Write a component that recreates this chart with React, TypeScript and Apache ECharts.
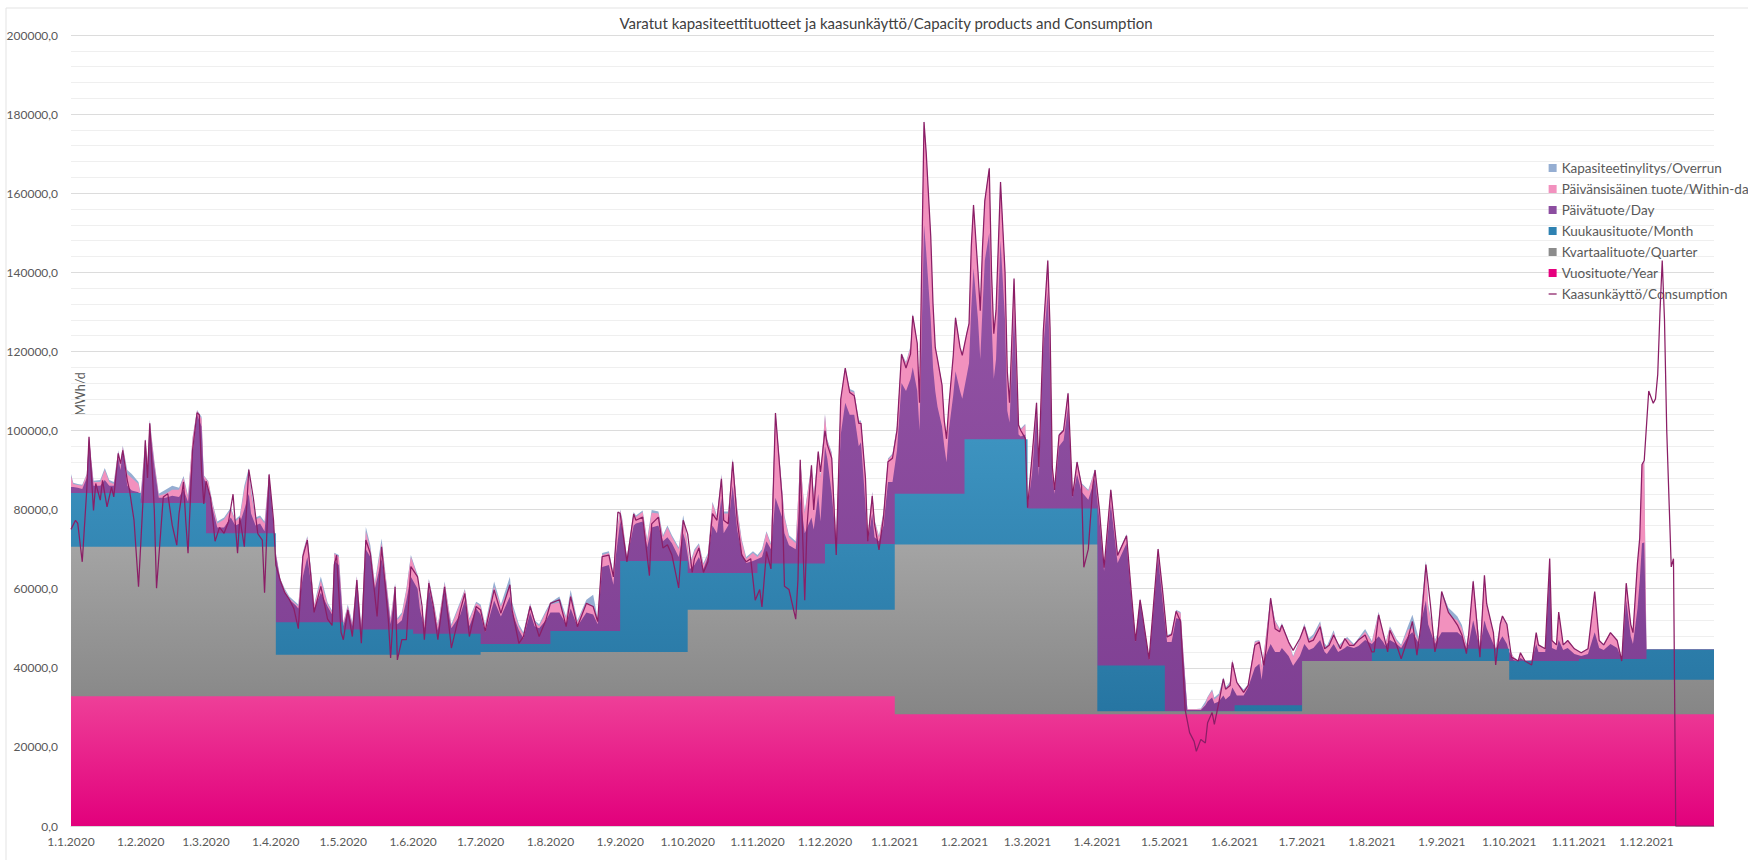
import React, { useEffect, useRef } from 'react';
import * as echarts from 'echarts';

// ---------- axis categories (one per day, 1.1.2020 – 31.12.2021) ----------
const START_UTC = Date.UTC(2020, 0, 1);
const DAY_COUNT = 731;
const dayLabels: string[] = Array.from({ length: DAY_COUNT }, (_, i) => {
  const d = new Date(START_UTC + i * 86400000);
  return `${d.getUTCDate()}.${d.getUTCMonth() + 1}.${d.getUTCFullYear()}`;
});
const monthStartDays = [0, 31, 60, 91, 121, 152, 182, 213, 244, 274, 305, 335, 366, 397, 425, 456, 486, 517, 547, 578, 609, 639, 670, 700];

// ---------- monthly step products (top of each band, MWh/d) ----------
const yearBandTop = [32800, 32800, 32800, 32800, 32800, 32800, 32800, 32800, 32800, 32800, 32800, 32800,
  28250, 28250, 28250, 28250, 28250, 28250, 28250, 28250, 28250, 28250, 28250, 28250];
const quarterBandTop = [70600, 70600, 70600, 43300, 43300, 43300, 44000, 44000, 44000, 54700, 54700, 54700,
  71200, 71200, 71200, 29000, 29000, 29000, 41700, 41700, 41700, 37000, 37000, 37000];
const monthBandTop = [84200, 81700, 74000, 51500, 49700, 48600, 46000, 49300, 67000, 64000, 66400, 71300,
  84000, 97800, 80300, 40600, 29000, 30500, 41700, 44800, 44800, 41700, 42200, 44600];

// ---------- daily capacity envelopes (tops of bands, MWh/d) ----------
const capDays = [
  0, 1, 3, 5, 7, 8, 10, 13, 15, 17, 19, 21, 22, 23, 25, 27, 30,
  31, 33, 34, 35, 37, 39, 42, 45, 48, 50, 52, 54, 56, 58, 59,
  61, 63, 65, 68, 71, 73, 75, 77, 79, 80, 82, 84, 86, 88, 90,
  91, 93, 95, 97, 100, 101, 103, 105, 107, 108, 111, 114, 116, 117, 119,
  121, 123, 125, 127, 129, 131, 133, 135, 138, 140, 142, 144, 145, 147, 149, 151,
  154, 155, 157, 159, 161, 163, 166, 169, 173, 175, 177, 180,
  182, 184, 188, 191, 195, 196, 199, 201, 204, 206, 208, 211,
  213, 217, 220, 222, 225, 229, 232, 234, 236, 239, 241, 242,
  244, 245, 247, 250, 251, 254, 256, 258, 261, 263, 265, 267, 270, 272, 273,
  275, 277, 279, 281, 283, 285, 287, 289, 290, 292, 294, 296, 298, 300, 303,
  305, 307, 309, 311, 313, 316, 317, 319, 322, 324, 326, 329, 330, 332, 333,
  335, 336, 338, 340, 342, 344, 346, 348, 350, 351, 353, 354, 356, 357, 359, 361, 363, 365,
  367, 369, 371, 373, 374, 376, 377, 379, 380, 382, 383, 384, 385, 387, 388, 389, 390, 392, 393, 395, 396,
  398, 399, 400, 401, 403, 404, 405, 406, 408, 409, 410, 411, 413, 415, 416, 417, 419, 420, 421, 422, 424,
  425, 427, 429, 430, 432, 434, 435, 436, 437, 439, 441, 443, 444, 445, 447, 449, 452, 455,
  457, 459, 462, 465, 469, 471, 473, 475, 476, 479, 483, 485,
  487, 489, 491, 493, 495, 496, 500, 502, 504, 505, 507, 508, 510, 512, 513, 515, 516,
  518, 521, 523, 526, 528, 529, 530, 533, 535, 537, 538, 541, 543, 546,
  548, 550, 552, 555, 557, 558, 561, 563, 566, 567, 570, 572, 575,
  578, 581, 583, 584, 586, 589, 591, 594, 596, 599, 600, 602, 603, 606, 607,
  609, 612, 614, 616, 618, 620, 621, 623, 626, 628, 629, 632, 633, 635, 636, 638,
  639, 641, 643, 644, 646, 649, 651, 652, 655, 657, 658, 660, 661, 663, 665, 668,
  671, 674, 677, 679, 681, 684, 687, 689, 691, 693, 694, 696, 697, 698, 699,
  700, 730,
];
// top of Päivätuote/Day band
const dayTop = [
  85700, 85700, 85500, 85200, 88000, 98000, 86000, 86000, 87500, 86000, 86000, 93000, 90000, 95000, 86000, 84800, 84400,
  82500, 96000, 90000, 101000, 91000, 83000, 83000, 83500, 83200, 85000, 82000, 94000, 104000, 101000, 88000,
  85000, 80000, 75500, 75500, 78000, 76000, 76500, 80000, 84000, 79000, 76000, 76500, 74500, 88500, 76000,
  68500, 62000, 59000, 57300, 55700, 55000, 63000, 68000, 60000, 55000, 59000, 55500, 53500, 67000, 66000,
  50500, 55000, 50500, 61000, 49800, 70000, 68000, 60000, 67500, 61000, 51000, 59500, 51000, 52000, 57000, 63000,
  60000, 55000, 50000, 60000, 55000, 49500, 59500, 50000, 53500, 57000, 50500, 55000,
  53500, 49000, 57000, 53000, 58000, 54000, 49500, 47500, 54000, 50500, 50000, 52000,
  54000, 54000, 51000, 55000, 50500, 54000, 53500, 51000, 65500, 66000, 61000, 68000,
  77000, 75000, 67600, 76000, 76500, 77000, 70500, 75500, 76000, 72000, 73000, 71500, 68000, 74000, 72000,
  65000, 66000, 68000, 65000, 68000, 76000, 74000, 83000, 74000, 76000, 86000, 75000, 69000, 66500, 67000,
  67500, 68000, 72000, 70000, 83000, 78000, 74000, 71000, 70000, 83000, 74000, 78000, 75000, 84000, 77000,
  96000, 93000, 84000, 71800, 99000, 107000, 104000, 104000, 96000, 97000, 81000, 72000, 79000, 73000, 72000, 76000, 87000, 87000,
  95000, 112000, 110000, 113000, 116000, 110000, 100000, 152000, 145000, 128000, 116000, 110000, 106000, 101000, 96000, 92000, 100000, 109000, 115000, 110000, 108000,
  114000, 117000, 131000, 141000, 128000, 118000, 131000, 143000, 150000, 128000, 113000, 118000, 148000, 128000, 105000, 102000, 130000, 114000, 99000, 98500, 99000,
  80500, 89000, 105000, 88500, 121000, 135000, 117000, 88500, 84000, 96000, 97500, 106000, 94500, 83000, 89000, 84500, 82500, 88000,
  77000, 64500, 81500, 66500, 71500, 58500, 46500, 56800, 53300, 42000, 68000, 57000,
  46500, 46500, 52500, 52300, 37000, 29300, 29300, 29300, 30500, 31500, 32500, 31000, 31500, 33000, 32000, 33000, 35000,
  33000, 33000, 35000, 40000, 41000, 37000, 42000, 46000, 44000, 44000, 45000, 43000, 40500, 43000,
  46000, 44500, 45000, 47000, 44000, 43500, 46000, 44000, 45000, 45500, 45000, 45500, 47000,
  46000, 48000, 46500, 45500, 47000, 46000, 45000, 48000, 49000, 46000, 52000, 57000, 51000, 46000, 47000,
  49000, 49000, 49000, 49000, 48000, 44900, 46000, 52000, 44800, 52000, 50000, 46000, 44800, 47000, 48000, 46000,
  44000, 42000, 41700, 42500, 41700, 41800, 46000, 44000, 44000, 65000, 45000, 44500, 47000, 44500, 45000, 43500,
  43000, 43500, 49000, 45000, 44500, 46000, 45000, 42200, 57000, 48000, 46000, 55000, 62000, 71500, 71700,
  44600, 44600,
];
// top of Päivänsisäinen tuote/Within-day band
const withinDayTop = [
  88500, 86500, 86200, 86000, 88800, 98400, 87000, 87000, 90000, 87000, 86500, 94600, 91000, 95900, 89000, 88000, 86500,
  83500, 97500, 92000, 102200, 92000, 83500, 84000, 85000, 85000, 88000, 83000, 98000, 105000, 103000, 88500,
  87000, 81000, 76500, 77500, 80000, 77000, 78000, 85000, 89500, 84000, 77500, 78000, 76500, 89100, 76500,
  69000, 62300, 59500, 57500, 56000, 55500, 68900, 73000, 62500, 55700, 62000, 56000, 54000, 68900, 68000,
  51300, 55500, 51000, 63000, 50200, 74500, 70000, 61000, 71500, 62000, 52000, 61000, 52000, 53500, 59500, 68100,
  63000, 57000, 51000, 62200, 56500, 50500, 61400, 50500, 56300, 59700, 52000, 56300,
  55500, 50500, 60500, 55500, 60500, 55500, 50400, 48500, 56000, 51500, 50500, 54000,
  56000, 56500, 52500, 58500, 51500, 56500, 55500, 52000, 68500, 69000, 63500, 72000,
  79800, 77000, 67800, 79000, 78100, 79400, 72000, 79200, 79000, 73000, 75500, 73000, 70000, 77500, 75000,
  66000, 69500, 71100, 66000, 68500, 81600, 78000, 88600, 79000, 79000, 92600, 80000, 72000, 67600, 69000,
  68000, 69500, 74200, 71000, 104400, 84500, 78000, 73000, 71500, 92600, 79000, 91200, 83000, 94700, 88000,
  103900, 97500, 94000, 72300, 107900, 115800, 110000, 109600, 102000, 102200, 88000, 72900, 84300, 77000, 73000, 79000, 92600, 93900,
  100900, 119300, 117000, 121000, 129200, 122000, 107200, 178000, 170000, 149000, 132000, 121000, 118000, 111800, 102500, 97900, 106000, 119000, 128700, 121000, 119000,
  124600, 127000, 146700, 157100, 140000, 130400, 146700, 158300, 166400, 140000, 124600, 130400, 162900, 140000, 115000, 107000, 138500, 120000, 101400, 100200, 101400,
  81000, 93700, 107200, 90900, 125000, 143200, 126000, 90900, 85100, 98900, 100000, 109500, 96800, 83500, 92100, 86400, 84700, 90000,
  79700, 65400, 85100, 68500, 73500, 59800, 46800, 57300, 53800, 42200, 70000, 59600,
  47900, 48500, 54400, 53800, 37600, 29500, 29500, 29500, 30800, 32500, 34200, 32000, 33000, 36500, 34500, 36000, 41900,
  36000, 34200, 35500, 46500, 46800, 40200, 43600, 57600, 51700, 49700, 51000, 46500, 42700, 46900,
  50800, 46900, 47800, 51200, 45600, 44700, 48900, 45000, 47000, 47400, 45600, 47000, 49100,
  46400, 53800, 48300, 45900, 50100, 46800, 45500, 49700, 50000, 46500, 55000, 66000, 55500, 46500, 48000,
  58500, 54000, 52500, 52000, 50000, 45500, 48500, 61900, 44900, 63000, 55500, 48500, 44900, 50500, 52800, 50500,
  44700, 42600, 41800, 43600, 41800, 41900, 48600, 45500, 44700, 67300, 46700, 45600, 53800, 45600, 46700, 44600,
  43700, 44600, 59000, 46700, 45600, 48700, 46700, 42300, 61200, 50800, 48700, 66300, 72600, 91200, 92200,
  44600, 44600,
];
// top of Kapasiteetinylitys/Overrun band (= total envelope)
const overrunTop = [
  89000, 86800, 86500, 86300, 89000, 98400, 87300, 87500, 90500, 87500, 87000, 95000, 91500, 96200, 90000, 89000, 87000,
  84000, 98000, 92500, 102700, 92500, 84000, 85000, 86000, 85500, 88500, 83500, 98300, 105200, 103500, 88700,
  87200, 81500, 77000, 78000, 80500, 77500, 78500, 86000, 90500, 85000, 78000, 78500, 77000, 89300, 76700,
  69200, 62500, 60000, 58000, 56500, 56000, 69200, 73300, 63000, 56000, 63100, 56500, 54500, 69100, 68500,
  51500, 56000, 51500, 63200, 50500, 75600, 71000, 61500, 72700, 62500, 52500, 61400, 52500, 54000, 60000, 68500,
  63500, 57500, 51500, 62500, 57000, 51000, 61800, 51000, 56800, 60000, 52500, 56700,
  56000, 51000, 61800, 56000, 63000, 56500, 51000, 49000, 56300, 52000, 51000, 54500,
  56500, 58000, 53000, 59700, 52000, 57200, 58500, 52500, 69000, 69500, 64000, 72500,
  80000, 77500, 68000, 79400, 78500, 79800, 72500, 79900, 79500, 73500, 76000, 73500, 70500, 78600, 75500,
  66500, 70000, 71500, 66500, 69000, 82000, 78500, 89000, 79500, 79500, 93000, 80500, 72500, 68000, 69500,
  68500, 70000, 74500, 71500, 104800, 85000, 78500, 73500, 72000, 92800, 79500, 91500, 83500, 95000, 88500,
  104200, 97800, 94500, 72500, 108200, 116000, 110500, 110000, 102500, 102500, 88500, 73200, 84600, 77500, 73300, 79500, 92900, 94200,
  101200, 119600, 117300, 121300, 129600, 122300, 107500, 178500, 170500, 149300, 132300, 121300, 118300, 112000, 102800, 98200, 106300, 119300, 129000, 121300, 119300,
  124900, 127300, 147000, 157400, 140300, 130700, 147000, 158600, 166700, 140300, 124900, 130700, 163200, 140300, 115300, 107300, 138800, 120300, 101700, 100500, 101700,
  81200, 94000, 107500, 91200, 125300, 143500, 126300, 91200, 85400, 99200, 100300, 109800, 97100, 83800, 92400, 86700, 85000, 90300,
  80000, 65600, 85400, 68800, 73800, 60100, 47000, 57600, 54100, 42400, 70300, 60000,
  48200, 48800, 54700, 54100, 37900, 29600, 29600, 29700, 31500, 32700, 34600, 32500, 33500, 37600, 35000, 36500, 42100,
  36300, 34500, 35800, 46800, 47000, 40500, 43900, 57900, 52000, 50000, 51300, 46800, 43000, 47200,
  51200, 47500, 48500, 51800, 46200, 45500, 49500, 45500, 47300, 47800, 46000, 47500, 49800,
  46800, 54200, 48800, 46300, 50500, 47200, 45800, 50500, 53400, 47000, 55500, 67000, 56000, 47000, 48500,
  59300, 55200, 54100, 53000, 50800, 46000, 48900, 62400, 45000, 63400, 56200, 48900, 45000, 51000, 53100, 51000,
  44800, 42700, 41900, 43800, 41900, 42000, 48900, 45800, 44800, 67600, 46900, 45800, 54100, 45800, 46900, 44800,
  43800, 44800, 59300, 46900, 45800, 48900, 46900, 42400, 61400, 51000, 48900, 66500, 72800, 91400, 92400,
  44600, 44600,
];

// ---------- Kaasunkäyttö/Consumption [day, MWh/d] ----------
const consumption: [number, number][] = [
  [0, 75000], [2, 77300], [3, 76500], [5, 66800], [7, 85000], [8, 98400], [10, 79800], [11, 86600], [13, 82400], [14, 87400],
  [16, 80700], [18, 85700], [19, 83200], [21, 94200], [22, 91600], [23, 95000], [25, 87400], [26, 84900], [28, 77300], [30, 60500],
  [32, 82400], [33, 97500], [34, 88000], [35, 101800], [37, 80000], [38, 60100], [41, 83200], [43, 84000], [45, 76000], [47, 71000],
  [48, 79000], [50, 87000], [51, 77000], [52, 69000], [54, 95000], [56, 104500], [57, 104000], [58, 90000], [59, 81400], [60, 87200],
  [62, 83000], [64, 72000], [66, 75500], [68, 74000], [70, 77000], [72, 83900], [74, 69000], [75, 78000], [77, 70600], [79, 90100],
  [81, 83000], [83, 73900], [85, 72300], [86, 59000], [88, 88900], [90, 77200], [91, 66000], [93, 62000], [95, 59000], [97, 57300],
  [99, 55000], [101, 49900], [103, 68100], [105, 72300], [107, 60600], [108, 54000], [111, 60600], [114, 52300], [116, 50700], [117, 66000],
  [118, 68500], [120, 49000], [121, 47100], [123, 54600], [125, 47900], [127, 62200], [129, 46200], [131, 72300], [133, 68900], [136, 53000],
  [138, 70600], [141, 52100], [142, 42500], [144, 60500], [145, 42000], [147, 47100], [149, 47100], [151, 65600], [154, 63000], [156, 55500],
  [157, 47100], [159, 61400], [161, 55500], [163, 47100], [166, 60500], [169, 45000], [173, 54600], [175, 58800], [177, 47900], [180, 55500],
  [182, 54600], [184, 49200], [188, 59700], [191, 53800], [195, 61000], [196, 54600], [199, 46200], [201, 47900], [204, 55500], [208, 47900],
  [211, 52100], [213, 56300], [217, 57200], [220, 50400], [222, 58000], [225, 50400], [229, 56300], [232, 55500], [234, 51700], [236, 68100],
  [239, 68500], [241, 63000], [243, 79400], [244, 79000], [247, 66800], [250, 78900], [251, 77300], [254, 78100], [257, 63300], [258, 76400],
  [261, 78100], [263, 70300], [265, 71100], [267, 68500], [270, 60200], [272, 77300], [274, 73800], [276, 64100], [277, 67600], [279, 70300],
  [281, 64100], [283, 66800], [285, 79000], [287, 77300], [289, 87800], [290, 77300], [292, 76400], [294, 92100], [296, 77300], [298, 68500],
  [300, 66800], [302, 67600], [304, 57100], [306, 59800], [307, 55400], [309, 69400], [311, 65000], [313, 104400], [316, 82500], [317, 60600],
  [319, 59800], [322, 52300], [323, 62400], [324, 92600], [326, 57100], [327, 75500], [329, 91200], [330, 79900], [332, 94700], [333, 89500],
  [335, 100000], [336, 96500], [338, 93000], [340, 68500], [342, 107900], [344, 115800], [346, 109600], [348, 108800], [350, 101800], [351, 101800],
  [353, 87800], [354, 72000], [356, 83400], [357, 76400], [359, 69800], [361, 78100], [363, 92100], [365, 93000], [367, 100000], [369, 119300],
  [371, 115800], [373, 119300], [374, 129000], [376, 122000], [377, 107000], [379, 178000], [380, 170000], [382, 149000], [383, 132000], [384, 121000],
  [385, 118000], [387, 111500], [388, 102500], [389, 97900], [390, 106000], [392, 119000], [393, 128500], [395, 121000], [396, 119000], [398, 124500],
  [399, 127000], [400, 146500], [401, 157000], [403, 140000], [404, 130300], [405, 146500], [406, 158000], [408, 166300], [409, 140000], [410, 124500],
  [411, 130300], [413, 162800], [415, 140000], [416, 115000], [417, 107000], [419, 138400], [420, 120000], [421, 101300], [422, 100000], [424, 98000],
  [425, 80500], [427, 93500], [429, 107000], [430, 90800], [432, 125000], [434, 143000], [435, 126000], [436, 90800], [437, 85000], [439, 98800],
  [441, 100000], [443, 109400], [444, 96700], [445, 83400], [447, 92000], [449, 86000], [450, 65400], [452, 70000], [454, 86000], [455, 90000],
  [457, 79600], [459, 65300], [462, 85000], [465, 68400], [469, 73400], [471, 59700], [473, 46800], [475, 57200], [476, 53700], [479, 42200],
  [483, 70000], [485, 59500], [487, 47800], [489, 48400], [491, 54300], [493, 51700], [495, 29500], [497, 23600], [499, 21400], [500, 18900],
  [502, 21900], [504, 21000], [505, 26100], [507, 28700], [508, 25700], [510, 31200], [512, 37200], [513, 34600], [515, 35500], [516, 41400],
  [518, 36300], [521, 33800], [523, 35500], [526, 45700], [528, 46500], [530, 40600], [531, 44800], [533, 57600], [535, 49900], [537, 49100],
  [538, 50800], [541, 46500], [543, 44400], [546, 47400], [548, 50400], [550, 46500], [552, 47000], [555, 50400], [557, 44800], [559, 45700],
  [561, 48300], [564, 44800], [566, 47400], [568, 45700], [570, 45700], [572, 47000], [575, 48300], [578, 44000], [579, 44000], [581, 53400],
  [584, 46500], [585, 44000], [586, 49500], [589, 45700], [591, 42300], [594, 47400], [596, 51700], [598, 43200], [600, 51700], [602, 66100],
  [604, 55900], [606, 44000], [607, 46500], [609, 59300], [612, 54000], [614, 52500], [616, 50800], [618, 48300], [620, 43600], [621, 48500],
  [623, 61900], [626, 42700], [628, 63400], [629, 56200], [632, 48900], [633, 40700], [635, 51000], [636, 53100], [638, 51000], [640, 42700],
  [643, 41700], [644, 43800], [646, 41700], [649, 40700], [651, 48900], [652, 45800], [655, 44800], [657, 67600], [658, 46900], [660, 45800],
  [661, 54100], [663, 45800], [665, 46900], [668, 44800], [671, 43800], [674, 44800], [677, 59300], [679, 46900], [681, 45800], [684, 48900],
  [687, 46900], [689, 41700], [691, 61400], [693, 51000], [694, 48900], [696, 66500], [697, 72800], [698, 91400], [699, 92400], [701, 110000],
  [703, 106900], [704, 108000], [705, 114200], [706, 130000], [707, 143000], [708, 128000], [709, 100000], [711, 65500], [712, 67600], [713, 0],
  [730, 0],
];

const seriesNames = {
  overrun: 'Kapasiteetinylitys/Overrun',
  within: 'Päivänsisäinen tuote/Within-day',
  day: 'Päivätuote/Day',
  month: 'Kuukausituote/Month',
  quarter: 'Kvartaalituote/Quarter',
  year: 'Vuosituote/Year',
  cons: 'Kaasunkäyttö/Consumption',
};

const FONT = 'Lato, "Open Sans", sans-serif';
const CONS_COLOR = '#8B1E66';

function stepData(tops: number[]) {
  const d: [number, number][] = monthStartDays.map((day, i) => [day, tops[i]]);
  d.push([DAY_COUNT - 1, tops[tops.length - 1]]);
  return d;
}
function capData(tops: number[]) {
  return capDays.map((day, i) => [day, tops[i]]);
}
function grad(top: string, bottom: string) {
  return new echarts.graphic.LinearGradient(0, 0, 0, 1, [
    { offset: 0, color: top },
    { offset: 1, color: bottom },
  ]);
}
function areaSeries(name: string, data: any[], fill: any, legendColor: string, step?: string) {
  return {
    name,
    type: 'line',
    data,
    step: step || false,
    symbol: 'none',
    showSymbol: false,
    lineStyle: { width: 0, opacity: 0 },
    itemStyle: { color: legendColor },
    areaStyle: { color: fill, opacity: 1 },
    silent: true,
    emphasis: { disabled: true },
  };
}

export default function App() {
  const ref = useRef<HTMLDivElement>(null);
  useEffect(() => {
    document.body.style.margin = '0';
    if (!ref.current) return;
    const chart = echarts.init(ref.current, undefined, { renderer: 'svg' });
    const option: any = {
      animation: false,
      backgroundColor: '#ffffff',
      grid: { left: 71, right: 34, top: 35, bottom: 34, containLabel: false },
      xAxis: {
        type: 'category',
        data: dayLabels,
        boundaryGap: false,
        axisLine: { show: true, lineStyle: { color: '#d9d9d9' } },
        axisTick: { show: false },
        splitLine: { show: false },
        axisLabel: {
          interval: (_i: number, v: string) => v.startsWith('1.'),
          color: '#595959',
          fontFamily: FONT,
          fontSize: 12,
          margin: 9,
        },
      },
      yAxis: {
        type: 'value',
        min: 0,
        max: 200000,
        interval: 20000,
        axisLine: { show: false },
        axisTick: { show: false },
        axisLabel: {
          formatter: (v: number) => v.toFixed(1).replace('.', ','),
          color: '#595959',
          fontFamily: FONT,
          fontSize: 12,
          margin: 13,
        },
        splitLine: { lineStyle: { color: '#dcdcdc', width: 1 } },
        minorTick: { show: false, splitNumber: 5 },
        minorSplitLine: { show: true, lineStyle: { color: '#efefef', width: 1 } },
      },
      legend: {
        orient: 'vertical',
        left: 1543,
        top: 156,
        itemWidth: 8,
        itemHeight: 8,
        itemGap: 7,
        selectedMode: false,
        textStyle: { color: '#595959', fontFamily: FONT, fontSize: 13.5, lineHeight: 14 },
        data: [
          { name: seriesNames.overrun, icon: 'rect' },
          { name: seriesNames.within, icon: 'rect' },
          { name: seriesNames.day, icon: 'rect' },
          { name: seriesNames.month, icon: 'rect' },
          { name: seriesNames.quarter, icon: 'rect' },
          { name: seriesNames.year, icon: 'rect' },
          {
            name: seriesNames.cons,
            itemStyle: { opacity: 0, color: 'rgba(0,0,0,0)', borderWidth: 0 },
            lineStyle: { color: CONS_COLOR, width: 1.25, opacity: 1 },
          },
        ],
      },
      graphic: [
        {
          type: 'line',
          shape: { x1: 6, y1: 8, x2: 1748, y2: 8 },
          style: { stroke: '#e3e3e3', lineWidth: 1 },
          silent: true,
        },
        {
          type: 'line',
          shape: { x1: 6, y1: 8, x2: 6, y2: 860 },
          style: { stroke: '#e3e3e3', lineWidth: 1 },
          silent: true,
        },
        {
          type: 'text',
          x: 886,
          y: 23,
          silent: true,
          style: {
            text: 'Varatut kapasiteettituotteet ja kaasunkäyttö/Capacity products and Consumption',
            fill: '#404040',
            fontFamily: FONT,
            fontSize: 15,
            align: 'center',
            textAlign: 'center',
            verticalAlign: 'middle',
            textVerticalAlign: 'middle',
          },
        },
        {
          type: 'text',
          x: 80,
          y: 394,
          rotation: Math.PI / 2,
          silent: true,
          style: {
            text: 'MWh/d',
            fill: '#595959',
            fontFamily: FONT,
            fontSize: 12.5,
            align: 'center',
            textAlign: 'center',
            verticalAlign: 'middle',
            textVerticalAlign: 'middle',
          },
        },
      ],
      series: [
        areaSeries(seriesNames.overrun, capData(overrunTop), '#95AED2', '#95AED2'),
        areaSeries(seriesNames.within, capData(withinDayTop), '#F291BE', '#F291BE'),
        areaSeries(seriesNames.day, capData(dayTop), grad('#9556A7', '#7A3A8E'), '#8C4EA0'),
        areaSeries(seriesNames.month, stepData(monthBandTop), grad('#3D93C0', '#1D6996'), '#2E82B2', 'end'),
        areaSeries(seriesNames.quarter, stepData(quarterBandTop), grad('#A4A4A4', '#727272'), '#8C8C8C', 'end'),
        areaSeries(seriesNames.year, stepData(yearBandTop), grad('#EE3F98', '#E2007C'), '#E6007E', 'end'),
        {
          name: seriesNames.cons,
          type: 'line',
          data: consumption,
          symbol: 'none',
          showSymbol: false,
          lineStyle: { color: CONS_COLOR, width: 1.25 },
          itemStyle: { color: CONS_COLOR },
          silent: true,
          emphasis: { disabled: true },
          z: 5,
        },
      ],
    };
    chart.setOption(option);
    return () => chart.dispose();
  }, []);
  return <div ref={ref} style={{ width: 1748, height: 860 }} />;
}
